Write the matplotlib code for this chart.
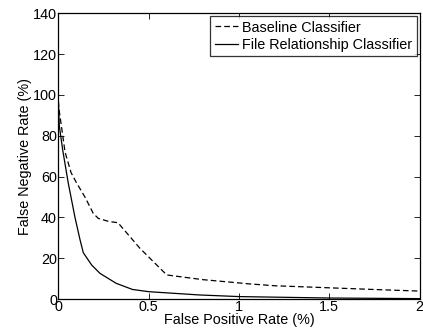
import matplotlib
matplotlib.use("Agg")
import matplotlib.pyplot as plt

plt.rcParams['font.family'] = ['Liberation Sans', 'DejaVu Sans']

# values
base_fpr = [0.0, 0.002, 0.037, 0.07, 0.10, 0.147, 0.193, 0.221, 0.28, 0.33, 0.45, 0.60, 0.80, 1.06, 1.2, 1.5, 1.8, 2.0]
base_fnr = [97, 94, 72, 62, 57, 50, 42, 39.5, 38, 37.4, 25, 11.8, 9.5, 7.4, 6.5, 5.5, 4.5, 3.9]

frc_fpr = [0.0, 0.005, 0.024, 0.055, 0.092, 0.12, 0.138, 0.184, 0.23, 0.32, 0.41, 0.50, 0.78, 1.0, 1.5, 2.0]
frc_fnr = [97, 85, 73, 56.7, 40, 29, 22.7, 16.7, 12.6, 7.7, 4.7, 3.6, 2.0, 1.2, 0.5, 0.2]

fs = 10.4

fig = plt.figure(figsize=(4.23, 3.33), dpi=100)
ax = fig.add_axes([0.138, 0.102, 0.854, 0.858])

ax.plot(base_fpr, base_fnr, color='k', lw=0.9, dashes=(4.5, 2.5), label='Baseline Classifier')
ax.plot(frc_fpr, frc_fnr, 'k-', lw=0.9, label='File Relationship Classifier')

ax.set_xlim(0, 2)
ax.set_ylim(0, 140)
ax.set_xticks([0, 0.5, 1, 1.5, 2])
ax.set_xticklabels(['0', '0.5', '1', '1.5', '2'])
ax.set_yticks(range(0, 141, 20))
ax.tick_params(direction='in', top=True, right=True, labelsize=fs, length=4, width=0.6, pad=1)
for s in ax.spines.values():
    s.set_linewidth(0.9)

ax.set_xlabel('False Positive Rate (%)', fontsize=fs, labelpad=-1)
ax.set_ylabel('False Negative Rate (%)', fontsize=fs, labelpad=1)

leg = ax.legend(loc='upper right', fontsize=fs, frameon=True, fancybox=False,
                edgecolor='black', handlelength=1.6, handletextpad=0.3,
                borderpad=0.3, labelspacing=0.25, borderaxespad=0.2)
leg.get_frame().set_linewidth(0.9)

fig.savefig('out.png', dpi=100)
